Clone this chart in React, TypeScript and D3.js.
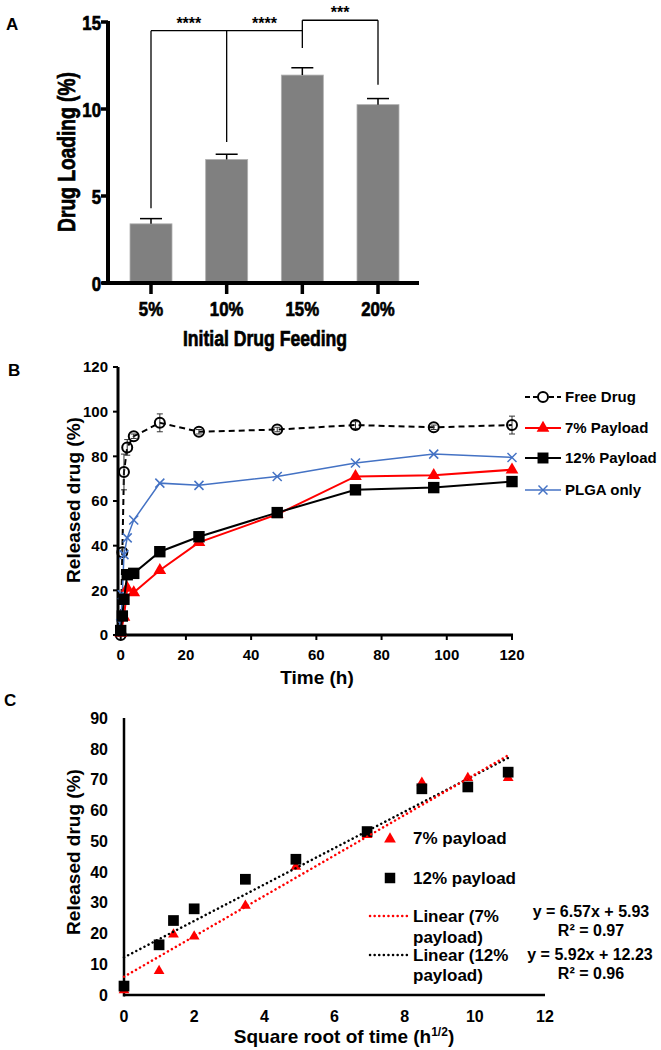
import React from 'react';
import * as d3 from 'd3';

// ---------- Panel A data ----------
const loadingCats = ['5%', '10%', '15%', '20%'];
const loadingVals = [3.4, 7.1, 11.95, 10.25];
const loadingErr = [0.3, 0.3, 0.42, 0.35];
const loadingTicks = [0, 5, 10, 15];

// ---------- Panel B data ----------
const freeTimes = [0, 0.5, 1, 2, 4, 12, 24, 48, 72, 96, 120];
const freeVals = [0, 37, 73, 84, 89, 95, 91, 92, 94, 93, 94];
const freeErr = [0, 2, 8, 3.5, 1, 4, 1, 1, 1.5, 1, 4];
const p7Times = [0, 1, 2, 4, 12, 24, 48, 72, 96, 120];
const p7Vals = [1, 8, 21, 19, 29, 41.5, 54, 71, 71.5, 74];
const p12Times = [0, 0.5, 1, 2, 4, 12, 24, 48, 72, 96, 120];
const p12Vals = [2, 8.5, 16, 27, 27.6, 37.3, 44, 54.8, 65, 66, 68.7];
const plgaTimes = [0, 0.5, 1, 2, 4, 12, 24, 48, 72, 96, 120];
const plgaVals = [5, 18, 36, 43.5, 51.5, 68, 67, 71, 77, 81, 79.5];
const bXTicks = [0, 20, 40, 60, 80, 100, 120];
const bYTicks = [0, 20, 40, 60, 80, 100, 120];
const bLegend = ['Free Drug', '7% Payload', '12% Payload', 'PLGA only'];

// ---------- Panel C data ----------
const sqrtTimes = [0, 1, 1.41, 2, 3.46, 4.9, 6.93, 8.49, 9.8, 10.95];
const c7Vals = [1.6, 7.8, 19.7, 19, 29, 41.7, 52, 69, 70.5, 70.5];
const c12Vals = [2.9, 16.3, 24.2, 28, 37.6, 44.1, 53.1, 67, 67.6, 72.4];
const fit7 = { slope: 6.57, intercept: 5.93, r2: '0.97' };
const fit12 = { slope: 5.92, intercept: 12.23, r2: '0.96' };
const cXTicks = [0, 2, 4, 6, 8, 10, 12];
const cYTicks = [0, 10, 20, 30, 40, 50, 60, 70, 80, 90];

const ARIAL = "Arial, 'Liberation Sans', sans-serif";
const RED = '#FF0000';
const BLUE = '#4472C4';

const tri = (s: number) => d3.symbol().type(d3.symbolTriangle).size(s)() as string;
const sq = (s: number) => d3.symbol().type(d3.symbolSquare).size(s)() as string;

function XMark({ x, y, r, color }: { x: number; y: number; r: number; color: string }) {
  return (
    <g stroke={color} strokeWidth={1.5}>
      <line x1={x - r} y1={y - r} x2={x + r} y2={y + r} />
      <line x1={x - r} y1={y + r} x2={x + r} y2={y - r} />
    </g>
  );
}

// condensed heavy text (the reference panel A uses a narrow bold face)
function NText({ x, y, rot = 0, anchor = 'middle', size, children, dy }: any) {
  return (
    <text
      transform={`translate(${x},${y}) rotate(${rot}) scale(0.8,1)`}
      textAnchor={anchor}
      fontSize={size}
      dy={dy}
      stroke="#000"
      strokeWidth={0.7}
    >
      {children}
    </text>
  );
}

function PanelA() {
  const x = d3.scalePoint<string>().domain(loadingCats).range([151, 378]);
  const y = d3.scaleLinear().domain([0, 15]).range([283, 22]);
  const bw = 42;
  const axX = 108;
  const brackets = [
    { x1: '5%', x2: '15%', y: 14.5 },
    { x1: '15%', x2: '20%', y: 15.1 },
  ];
  const drops = [
    { c: '5%', y1: 14.5, y2: 4.3 },
    { c: '10%', y1: 14.5, y2: 8.1 },
    { c: '15%', y1: 15.1, y2: 13.5 },
    { c: '20%', y1: 15.1, y2: 11.4 },
  ];
  const stars = [
    { a: '5%', b: '10%', y: 14.5, t: '****' },
    { a: '10%', b: '15%', y: 14.5, t: '****' },
    { a: '15%', b: '20%', y: 15.1, t: '***' },
  ];
  return (
    <g fontFamily={ARIAL} fontWeight="bold">
      <text x={6} y={30} fontSize={17}>A</text>
      {loadingCats.map((c, i) => (
        <g key={c}>
          <rect x={x(c)! - bw / 2} y={y(loadingVals[i])} width={bw} height={y(0) - y(loadingVals[i])} fill="#808080" stroke="#b0b0b0" strokeWidth={0.8} />
          <line x1={x(c)} x2={x(c)} y1={y(loadingVals[i])} y2={y(loadingVals[i] + loadingErr[i])} stroke="#000" strokeWidth={1.5} />
          <line x1={x(c)! - 11} x2={x(c)! + 11} y1={y(loadingVals[i] + loadingErr[i])} y2={y(loadingVals[i] + loadingErr[i])} stroke="#000" strokeWidth={1.5} />
        </g>
      ))}
      {/* axes */}
      <line x1={axX} x2={axX} y1={y(15) - 1} y2={y(0) + 2} stroke="#000" strokeWidth={4} />
      <line x1={102} x2={419} y1={y(0)} y2={y(0)} stroke="#000" strokeWidth={4} />
      {loadingTicks.map((t) => (
        <g key={t}>
          <line x1={axX - 7} x2={axX} y1={y(t)} y2={y(t)} stroke="#000" strokeWidth={3.5} />
          <NText x={101} y={y(t)} dy="0.36em" anchor="end" size={21}>{t}</NText>
        </g>
      ))}
      {loadingCats.map((c) => (
        <g key={c}>
          <line x1={x(c)} x2={x(c)} y1={y(0)} y2={y(0) + 11} stroke="#000" strokeWidth={3.5} />
          <NText x={x(c)} y={316} size={21}>{c}</NText>
        </g>
      ))}
      <NText x={75} y={152} rot={-90} size={24}>Drug Loading (%)</NText>
      <NText x={265} y={346} size={22}>Initial Drug Feeding</NText>
      {/* significance */}
      {brackets.map((b, i) => (
        <line key={i} x1={x(b.x1)} x2={x(b.x2)} y1={y(b.y)} y2={y(b.y)} stroke="#000" strokeWidth={1.3} />
      ))}
      {drops.map((d, i) => (
        <line key={i} x1={x(d.c)} x2={x(d.c)} y1={y(d.y1)} y2={y(d.y2)} stroke="#000" strokeWidth={1.3} />
      ))}
      {stars.map((s, i) => (
        <text key={i} x={(x(s.a)! + x(s.b)!) / 2} y={y(s.y) - 2} textAnchor="middle" fontSize={16}>{s.t}</text>
      ))}
    </g>
  );
}

function PanelB() {
  const x = d3.scaleLinear().domain([0, 120]).range([120.7, 512]);
  const y = d3.scaleLinear().domain([0, 120]).range([635, 367]);
  const line = d3.line<[number, number]>().x((d) => x(d[0])).y((d) => y(d[1]));
  const zip = (t: number[], v: number[]) => t.map((tt, i) => [tt, v[i]] as [number, number]);
  const legY = [397, 428, 458, 490];
  return (
    <g fontFamily={ARIAL} fontWeight="bold">
      <text x={8} y={376} fontSize={17}>B</text>
      {/* axes */}
      <line x1={118} x2={118} y1={y(120)} y2={y(0) + 1.5} stroke="#000" strokeWidth={3} />
      <line x1={118} x2={x(120) + 1} y1={y(0)} y2={y(0)} stroke="#000" strokeWidth={3} />
      {bYTicks.map((t) => (
        <g key={t}>
          <line x1={113} x2={118} y1={y(t)} y2={y(t)} stroke="#000" strokeWidth={2} />
          <text x={108} y={y(t)} dy="0.36em" textAnchor="end" fontSize={15}>{t}</text>
        </g>
      ))}
      {bXTicks.map((t) => (
        <g key={t}>
          <line x1={x(t)} x2={x(t)} y1={y(0)} y2={y(0) + 5} stroke="#000" strokeWidth={2} />
          <text x={x(t)} y={660} textAnchor="middle" fontSize={15}>{t}</text>
        </g>
      ))}
      <text transform="translate(73,500) rotate(-90)" textAnchor="middle" dominantBaseline="central" fontSize={19}>Released drug (%)</text>
      <text x={317} y={684} textAnchor="middle" fontSize={19}>Time (h)</text>

      {/* Free drug */}
      <path d={line(zip(freeTimes, freeVals))!} fill="none" stroke="#000" strokeWidth={2} strokeDasharray="6,4" />
      {freeTimes.map((t, i) => (
        <g key={i}>
          {freeErr[i] > 0 && (
            <g stroke="#333" strokeWidth={1}>
              <line x1={x(t)} x2={x(t)} y1={y(freeVals[i] - freeErr[i])} y2={y(freeVals[i] + freeErr[i])} />
              <line x1={x(t) - 3} x2={x(t) + 3} y1={y(freeVals[i] + freeErr[i])} y2={y(freeVals[i] + freeErr[i])} />
              <line x1={x(t) - 3} x2={x(t) + 3} y1={y(freeVals[i] - freeErr[i])} y2={y(freeVals[i] - freeErr[i])} />
            </g>
          )}
          <circle cx={x(t)} cy={y(freeVals[i])} r={5} fill="none" stroke="#000" strokeWidth={2} />
        </g>
      ))}
      {/* PLGA */}
      <path d={line(zip(plgaTimes, plgaVals))!} fill="none" stroke={BLUE} strokeWidth={1.5} />
      {plgaTimes.map((t, i) => <XMark key={i} x={x(t)} y={y(plgaVals[i])} r={4.5} color={BLUE} />)}
      {/* 7% */}
      <path d={line(zip(p7Times, p7Vals))!} fill="none" stroke={RED} strokeWidth={2} />
      {p7Times.map((t, i) => <path key={i} d={tri(70)} transform={`translate(${x(t)},${y(p7Vals[i])})`} fill={RED} />)}
      {/* 12% */}
      <path d={line(zip(p12Times, p12Vals))!} fill="none" stroke="#000" strokeWidth={2} />
      {p12Times.map((t, i) => <path key={i} d={sq(130)} transform={`translate(${x(t)},${y(p12Vals[i])})`} fill="#000" />)}

      {/* legend */}
      <g>
        <line x1={525} x2={561} y1={legY[0]} y2={legY[0]} stroke="#000" strokeWidth={2} strokeDasharray="5,3" />
        <circle cx={543} cy={legY[0]} r={5} fill="#fff" stroke="#000" strokeWidth={2} />
        <line x1={525} x2={561} y1={legY[1]} y2={legY[1]} stroke={RED} strokeWidth={2} />
        <path d={tri(70)} transform={`translate(543,${legY[1]})`} fill={RED} />
        <line x1={525} x2={561} y1={legY[2]} y2={legY[2]} stroke="#000" strokeWidth={2} />
        <path d={sq(120)} transform={`translate(543,${legY[2]})`} fill="#000" />
        <line x1={525} x2={561} y1={legY[3]} y2={legY[3]} stroke={BLUE} strokeWidth={1.5} />
        <XMark x={543} y={legY[3]} r={4.5} color={BLUE} />
        {bLegend.map((l, i) => (
          <text key={l} x={565} y={legY[i]} dy="0.36em" fontSize={15}>{l}</text>
        ))}
      </g>
    </g>
  );
}

function PanelC() {
  const x = d3.scaleLinear().domain([0, 12]).range([124, 545]);
  const y = d3.scaleLinear().domain([0, 90]).range([995, 718]);
  const xEnd = sqrtTimes[sqrtTimes.length - 1];
  const fitLine = (f: { slope: number; intercept: number }) =>
    d3.line<number>().x((d) => x(d)).y((d) => y(f.slope * d + f.intercept))([0, xEnd])!;
  return (
    <g fontFamily={ARIAL} fontWeight="bold">
      <text x={4} y={706} fontSize={17}>C</text>
      <line x1={124} x2={124} y1={y(90)} y2={y(0) + 1.5} stroke="#000" strokeWidth={2.5} />
      <line x1={124} x2={x(12)} y1={y(0)} y2={y(0)} stroke="#000" strokeWidth={2.5} />
      {cYTicks.map((t) => (
        <text key={t} x={108} y={y(t)} dy="0.36em" textAnchor="end" fontSize={16}>{t}</text>
      ))}
      {cXTicks.map((t) => (
        <text key={t} x={x(t)} y={1022} textAnchor="middle" fontSize={16}>{t}</text>
      ))}
      <text transform="translate(73,852) rotate(-90)" textAnchor="middle" dominantBaseline="central" fontSize={19}>Released drug (%)</text>
      <text x={344} y={1043} textAnchor="middle" fontSize={19}>
        Square root of time (h<tspan dy={-7} fontSize={12}>1/2</tspan><tspan dy={7}>)</tspan>
      </text>

      {/* points */}
      {sqrtTimes.map((t, i) => <path key={'r' + i} d={tri(50)} transform={`translate(${x(t)},${y(c7Vals[i])})`} fill={RED} />)}
      {sqrtTimes.map((t, i) => <path key={'b' + i} d={sq(115)} transform={`translate(${x(t)},${y(c12Vals[i])})`} fill="#000" />)}
      {/* trendlines */}
      <path d={fitLine(fit12)} stroke="#000" strokeWidth={2.5} strokeDasharray="0.1,4.5" strokeLinecap="round" fill="none" />
      <path d={fitLine(fit7)} stroke={RED} strokeWidth={2.5} strokeDasharray="0.1,4.5" strokeLinecap="round" fill="none" />

      {/* legend */}
      <path d={tri(60)} transform="translate(390,839)" fill={RED} />
      <text x={413} y={838} dy="0.36em" fontSize={17}>7%  payload</text>
      <path d={sq(110)} transform="translate(390,878)" fill="#000" />
      <text x={413} y={878} dy="0.36em" fontSize={17}>12%  payload</text>
      <line x1={370} x2={408} y1={916} y2={916} stroke={RED} strokeWidth={2.5} strokeDasharray="0.1,4.5" strokeLinecap="round" />
      <text x={413} y={916} dy="0.36em" fontSize={17}>Linear (7%</text>
      <text x={413} y={937} dy="0.36em" fontSize={17}>payload)</text>
      <line x1={370} x2={408} y1={955} y2={955} stroke="#000" strokeWidth={2.5} strokeDasharray="0.1,4.5" strokeLinecap="round" />
      <text x={413} y={955} dy="0.36em" fontSize={17}>Linear (12%</text>
      <text x={413} y={975} dy="0.36em" fontSize={17}>payload)</text>
      <text x={591} y={911} dy="0.36em" textAnchor="middle" fontSize={16}>{`y = ${fit7.slope}x + ${fit7.intercept}`}</text>
      <text x={591} y={930} dy="0.36em" textAnchor="middle" fontSize={16}>R² = {fit7.r2}</text>
      <text x={590} y={954} dy="0.36em" textAnchor="middle" fontSize={16}>{`y = ${fit12.slope}x + ${fit12.intercept}`}</text>
      <text x={591} y={973} dy="0.36em" textAnchor="middle" fontSize={16}>R² = {fit12.r2}</text>
    </g>
  );
}

export default function App() {
  return (
    <svg width={661} height={1050} style={{ position: 'absolute', left: 0, top: 0, background: '#fff' }}>
      <rect width={661} height={1050} fill="#fff" />
      <PanelA />
      <PanelB />
      <PanelC />
    </svg>
  );
}
